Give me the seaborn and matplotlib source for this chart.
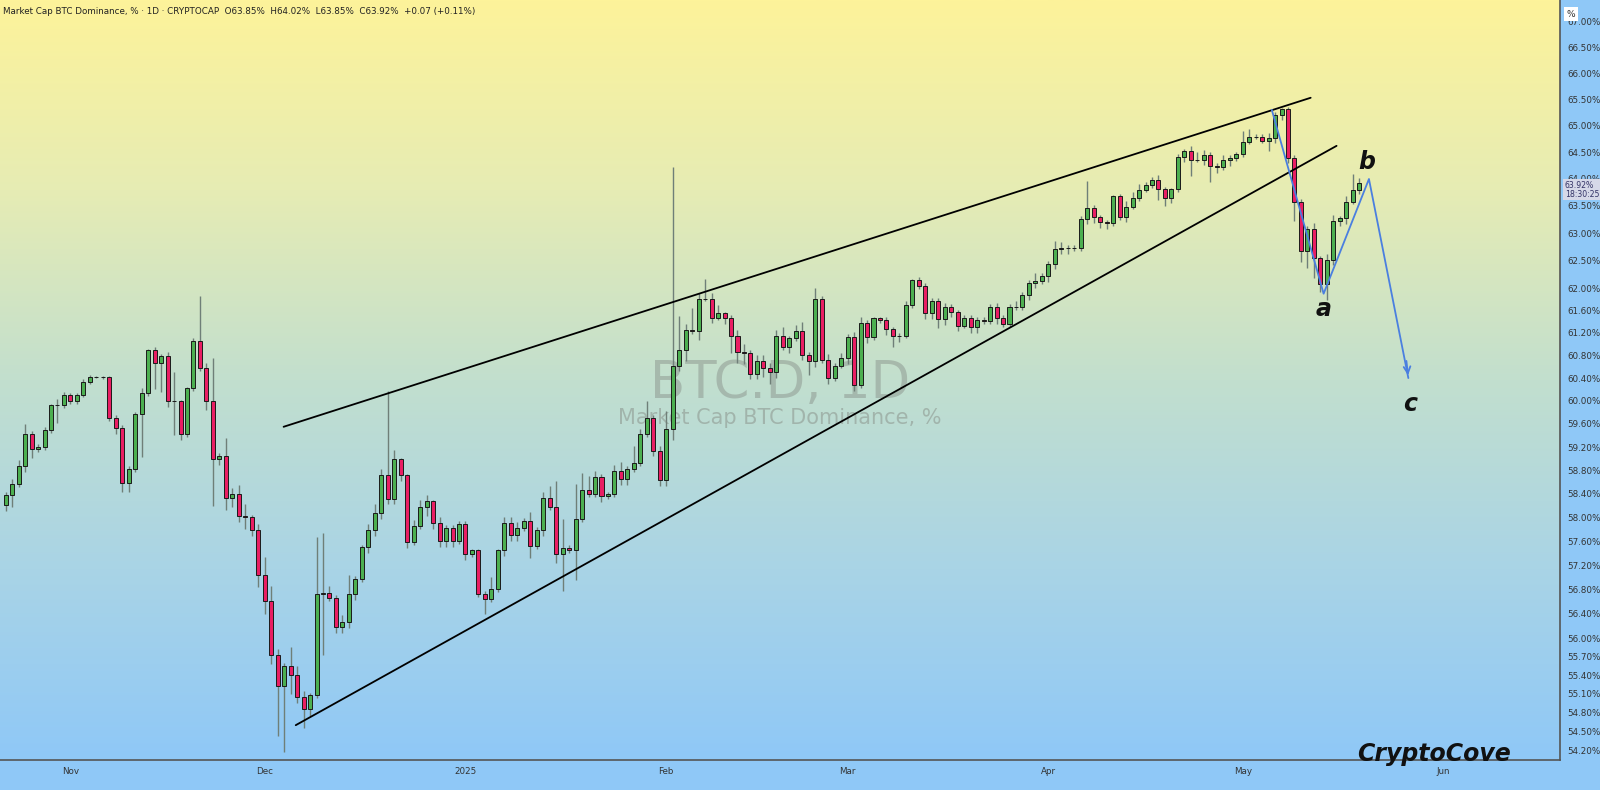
import numpy as np
import pandas as pd
import matplotlib
matplotlib.use("Agg")
import matplotlib.pyplot as plt
import matplotlib.dates as mdates
import seaborn as sns

# daily closes (first candle 2024-10-22)
start = "2024-10-22"
first_open = 58.21
closes = [
    58.38, 58.57, 58.88, 59.43, 59.17, 59.20, 59.50, 59.92, 59.93, 60.10,
    59.99, 60.11, 60.33, 60.42, 60.42, 60.41, 59.70, 59.53, 58.58, 58.83,
    59.78, 60.14, 60.90, 60.66, 60.78, 60.00, 60.00, 59.42, 60.22, 61.05,
    60.57, 60.00, 58.99, 59.05, 58.33, 58.40, 58.02, 58.00, 57.79, 57.04,
    56.60, 55.73, 55.23, 55.55, 55.40, 55.05, 54.85, 55.08, 56.72, 56.74,
    56.65, 56.18, 56.27, 56.73, 56.97, 57.50, 57.79, 58.07, 58.72, 58.32,
    59.00, 58.72, 57.58, 57.86, 58.18, 58.28, 57.91, 57.60, 57.83, 57.60,
    57.89, 57.38, 57.45, 56.72, 56.64, 56.80, 57.45, 57.90, 57.70, 57.83,
    57.94, 57.52, 57.79, 58.33, 58.17, 57.38, 57.48, 57.45, 57.97, 58.46,
    58.40, 58.69, 58.36, 58.40, 58.79, 58.65, 58.83, 58.92, 59.42, 59.70,
    59.14, 58.64, 59.52, 60.62, 60.90, 61.25, 61.23, 61.81, 61.81, 61.47,
    61.55, 61.46, 61.15, 60.86, 60.84, 60.48, 60.70, 60.57, 60.50, 61.15,
    60.94, 61.10, 61.24, 60.81, 60.70, 61.81, 60.72, 60.40, 60.62, 60.75,
    61.12, 60.27, 61.38, 61.12, 61.46, 61.43, 61.26, 61.14, 61.15, 61.69,
    62.15, 62.04, 61.55, 61.77, 61.44, 61.66, 61.58, 61.33, 61.46, 61.30,
    61.43, 61.41, 61.66, 61.46, 61.35, 61.67, 61.66, 61.88, 62.10, 62.13,
    62.22, 62.44, 62.71, 62.73, 62.72, 62.73, 63.26, 63.46, 63.29, 63.20,
    63.18, 63.68, 63.30, 63.49, 63.65, 63.80, 63.89, 63.98, 63.81, 63.65,
    63.81, 64.41, 64.52, 64.36, 64.36, 64.45, 64.25, 64.22, 64.35, 64.39,
    64.46, 64.70, 64.79, 64.79, 64.72, 64.77, 65.21, 65.31, 64.40, 63.58,
    62.67, 63.08, 62.54, 62.08, 62.51, 63.23, 63.27, 63.58, 63.80, 63.92,
]
# wick lengths above / below the body
wick_up = [
    .05, .08, .1, .17, .05, .05, .04, .02, .1, .05,
    .04, .03, .05, .04, .02, .02, .02, .05, .05, .05,
    .03, .08, .02, .05, .05, .08, .5, .02, .03, .05,
    .8, .1, .75, .05, .3, .1, .15, .2, .05, .1,
    .3, .25, .1, .05, .3, .15, .1, .04, .95, 1.0,
    .12, .05, .1, .3, .05, .03, .1, .15, .1, 1.45,
    .15, .02, .02, .1, .12, .1, .02, .1, .05, .05,
    .05, .05, .02, .02, .05, .2, .02, .1, .1, .1,
    .05, .15, .05, .1, .2, .45, .5, .05, .6, .3,
    .25, .1, .05, .03, .1, .15, .05, .3, .1, .3,
    .05, .08, .3, 3.6, .6, .1, .4, .1, .35, .1,
    .15, .03, .05, .1, .15, .05, .1, .1, .1, .1,
    .15, .05, .1, .15, .05, .2, .05, .1, .05, .1,
    .05, .1, .1, .05, .02, .02, .05, .05, .05, .08,
    .02, .05, .05, .05, .05, .08, .05, .02, .05, .05,
    .05, .05, .05, .08, .05, .05, .1, .05, .05, .15,
    .05, .05, .15, .1, .05, .05, .05, .5, .05, .05,
    .05, .03, .05, .1, .1, .1, .05, .05, .1, .05,
    .02, .05, .05, .1, .15, .1, .05, .05, .1, .05,
    .05, .2, .15, .05, .05, .1, .05, .03, .05, .05,
    .05, .05, .1, .05, .1, .1, .05, .1, .3, .1,
]
wick_dn = [
    .1, .2, .05, .1, .15, .05, .05, .05, .3, .05,
    .05, .05, .05, .03, .02, .02, .05, .1, .15, .15,
    .05, .75, .05, .45, .5, .1, .6, .1, .05, .05,
    .05, .15, .8, .1, .2, .15, .1, .2, .1, .2,
    .2, .15, .8, 1.05, .3, .1, .3, .1, .05, 1.0,
    .05, .1, .1, .1, .1, .05, .1, .1, .1, .1,
    .1, .1, .1, .05, .05, .15, .1, .1, .1, .1,
    .05, .1, .05, .05, .25, .05, .05, .1, .1, .1,
    .05, .2, .05, .1, .05, .15, .6, .05, .5, .05,
    .05, .05, .1, .05, .05, .1, .1, .05, .05, .05,
    .1, .1, .1, .2, .1, .2, .05, .15, .05, .1,
    .05, .1, .3, .2, .2, .1, .1, .15, .2, .1,
    .05, .1, .05, .1, .25, .1, .05, .1, .05, .05,
    .1, .1, .05, .1, .05, .05, .1, .2, .1, .05,
    .05, .05, .1, .1, .15, .1, .1, .1, .05, .1,
    .1, .05, .05, .1, .05, .05, .05, .05, .1, .1,
    .05, .1, .1, .1, .1, .05, .05, .1, .1, .1,
    .1, .05, .05, .1, .05, .05, .05, .05, .2, .15,
    .1, .05, .1, .3, .05, .1, .3, .1, .05, .1,
    .05, .05, .05, .05, .05, .2, .1, .1, .1, .35,
    .2, .3, .35, .15, .3, .1, .1, .1, .05, .07,
]

# drawn lines (date, price)
upper_line = (["2024-12-03 22:00", "2025-05-11 12:00"], [59.55, 65.53])
lower_line = (["2024-12-05 19:00", "2025-05-15 12:00"], [54.60, 64.62])
abc_dates = ["2025-05-05 12:00", "2025-05-13 12:00", "2025-05-20 12:00", "2025-05-26 14:00"]
abc_prices = [65.30, 61.90, 64.00, 60.40]

ytick_vals = [54.2, 54.5, 54.8, 55.1, 55.4, 55.7, 56.0, 56.4, 56.8, 57.2, 57.6, 58.0,
              58.4, 58.8, 59.2, 59.6, 60.0, 60.4, 60.8, 61.2, 61.6, 62.0, 62.5, 63.0,
              63.5, 64.0, 64.5, 65.0, 65.5, 66.0, 66.5, 67.0]
month_ticks = ["2024-11-01", "2024-12-01", "2025-01-01", "2025-02-01", "2025-03-01",
               "2025-04-01", "2025-05-01", "2025-06-01"]
month_labels = ["Nov", "Dec", "2025", "Feb", "Mar", "Apr", "May", "Jun"]

df = pd.DataFrame({"date": pd.date_range(start, periods=len(closes), freq="D"),
                   "close": closes})
df["open"] = df["close"].shift(1).fillna(first_open)
df["top"] = df[["open", "close"]].max(axis=1)
df["bot"] = df[["open", "close"]].min(axis=1)
df["high"] = df["top"] + np.array(wick_up)
df["low"] = df["bot"] - np.array(wick_dn)
df["x"] = mdates.date2num(df["date"])

sns.set_theme(style="white")
plt.rcParams["font.family"] = ["DejaVu Sans"]

fig = plt.figure(figsize=(16, 7.9), dpi=100)
ax = fig.add_axes([0, 0.038, 0.975, 0.962])

# gradient background
grad = np.linspace(0, 1, 256)[:, None]
cmap = matplotlib.colors.LinearSegmentedColormap.from_list(
    "bg", ["#fdf39a", "#e6ecb4", "#c2dfce", "#a9d4e6", "#8fc8f7"])
ax.imshow(grad, aspect="auto", cmap=cmap, extent=[0, 1, 0, 1],
          transform=ax.transAxes, zorder=0, origin="upper")
fig.patch.set_facecolor("#8fc8f7")

up = df["close"] >= df["open"]
for mask, face in [(up, "#4caf50"), (~up, "#e91e63")]:
    d = df[mask]
    ax.vlines(d["x"], d["low"], d["high"], color="#6f7f78", lw=1, zorder=2)
    ax.bar(d["x"], d["top"] - d["bot"], bottom=d["bot"], width=0.62,
           color=face, edgecolor="#1a1a1a", linewidth=0.7, zorder=3)

for dates, prices in [upper_line, lower_line]:
    sns.lineplot(x=mdates.date2num(pd.to_datetime(dates)), y=prices, ax=ax,
                 color="black", lw=1.3, zorder=4)
abc_x = mdates.date2num(pd.to_datetime(abc_dates))
sns.lineplot(x=abc_x, y=abc_prices, ax=ax, color="#4a7fe0", lw=1.3, sort=False, zorder=5)
ax.annotate("", xy=(abc_x[-1], abc_prices[-1]),
            xytext=(abc_x[-1] - 0.35, abc_prices[-1] + 0.35),
            arrowprops=dict(arrowstyle="->", color="#4a7fe0", lw=1.3), zorder=5)
for lab, dx, price in [("a", abc_x[1], 61.62), ("b", abc_x[2] - 0.3, 64.32), ("c", abc_x[3] + 0.3, 59.95)]:
    ax.text(dx, price, lab, fontsize=17, fontstyle="italic", fontweight="bold",
            ha="center", va="center", color="#111111", zorder=6)

ax.set_yscale("log")
ax.set_ylim(54.05, 67.42)
ax.set_xlim(mdates.date2num(pd.Timestamp("2024-10-21 03:00")),
            mdates.date2num(pd.Timestamp("2025-06-19")))
ax.yaxis.tick_right()
ax.yaxis.set_minor_locator(matplotlib.ticker.NullLocator())
ax.set_yticks(ytick_vals)
ax.set_yticklabels([f"{v:.2f}%" for v in ytick_vals], fontsize=6.3, color="#333333")
ax.set_xticks(mdates.date2num(pd.to_datetime(month_ticks)))
ax.set_xticklabels(month_labels, fontsize=6.3, color="#333333")
ax.tick_params(axis="both", length=0, pad=5)
for s in ["top", "left"]:
    ax.spines[s].set_visible(False)
for s in ["right", "bottom"]:
    ax.spines[s].set_color("#555555")
    ax.spines[s].set_linewidth(1.2)
ax.set_xlabel("")
ax.set_ylabel("")

# watermark
ax.text(0.5, 0.495, "BTC.D, 1D", transform=ax.transAxes, fontsize=37,
        color="#8f9a92", alpha=0.55, ha="center", va="center", zorder=1)
ax.text(0.5, 0.45, "Market Cap BTC Dominance, %", transform=ax.transAxes, fontsize=15,
        color="#8f9a92", alpha=0.6, ha="center", va="center", zorder=1)

fig.text(0.002, 0.985, "Market Cap BTC Dominance, % · 1D · CRYPTOCAP  O63.85%  H64.02%  L63.85%  C63.92%  +0.07 (+0.11%)",
         fontsize=6.3, color="#222222", va="center", ha="left")
fig.text(0.944, 0.045, "CryptoCove", fontsize=17, fontstyle="italic", fontweight="bold",
         color="#111111", ha="right", va="center")

# last price tag
ax.text(1.003, 63.80, "63.92%\n18:30:25", transform=ax.get_yaxis_transform(),
        fontsize=5.6, color="#333366", va="center", ha="left", linespacing=1.0,
        bbox=dict(boxstyle="square,pad=0.2", fc="#d5d8e8", ec="none"), zorder=7)
fig.text(0.979, 0.982, "%", fontsize=6.5, color="#333333", va="center", ha="left",
         bbox=dict(boxstyle="square,pad=0.3", fc="white", ec="none"))

fig.savefig("out.png", dpi=100)
